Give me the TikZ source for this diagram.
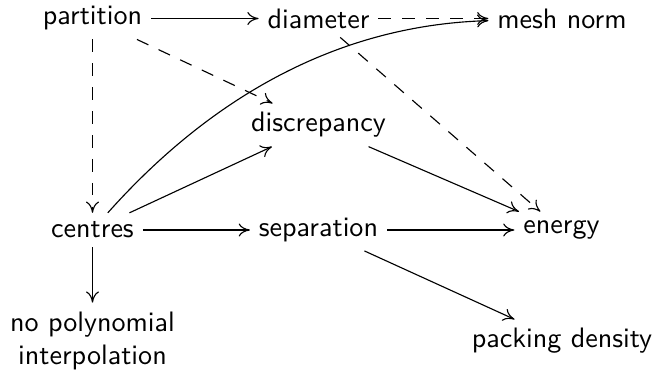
\documentclass[tikz,border=0pt]{standalone}
\usetikzlibrary{arrows.meta}
\begin{document}
\begin{tikzpicture}[x=0.3557pt,y=-0.3557pt, font=\sffamily,
  every node/.style={inner sep=3pt},
  arr/.style={-{Computer Modern Rightarrow[length=4pt,width=4.6pt]}, line width=0.4pt},
  dsh/.style={arr, dash pattern=on 4.5pt off 4pt}]
\useasboundingbox (0,0) rectangle (659,371);
\node (part) at (92.5,18.5) {partition};
\node (diam) at (318.5,18.5) {diameter};
\node (mesh) at (562,18.5) {mesh norm};
\node (disc) at (318.5,125) {discrepancy};
\node (cent) at (92.5,230) {centres};
\node (sep) at (318.5,230) {separation};
\node (ener) at (561.5,230) {energy};
\node[align=center] (nopo) at (92.5,341) {no polynomial\\interpolation};
\node (pack) at (562,341) {packing density};
\draw[arr] (part) -- (diam);
\draw[dsh] (diam) -- (mesh);
\draw[dsh] (part) -- (cent);
\draw[dsh] (part) -- (disc);
\draw[dsh] (diam) -- (ener);
\draw[arr] (cent) .. controls (212,96) and (339,25) .. (mesh);
\draw[arr] (cent) -- (disc);
\draw[arr] (cent) -- (sep);
\draw[arr] (sep) -- (ener);
\draw[arr] (disc) -- (ener);
\draw[arr] (sep) -- (pack);
\draw[arr] (cent) -- (nopo);
\end{tikzpicture}
\end{document}
